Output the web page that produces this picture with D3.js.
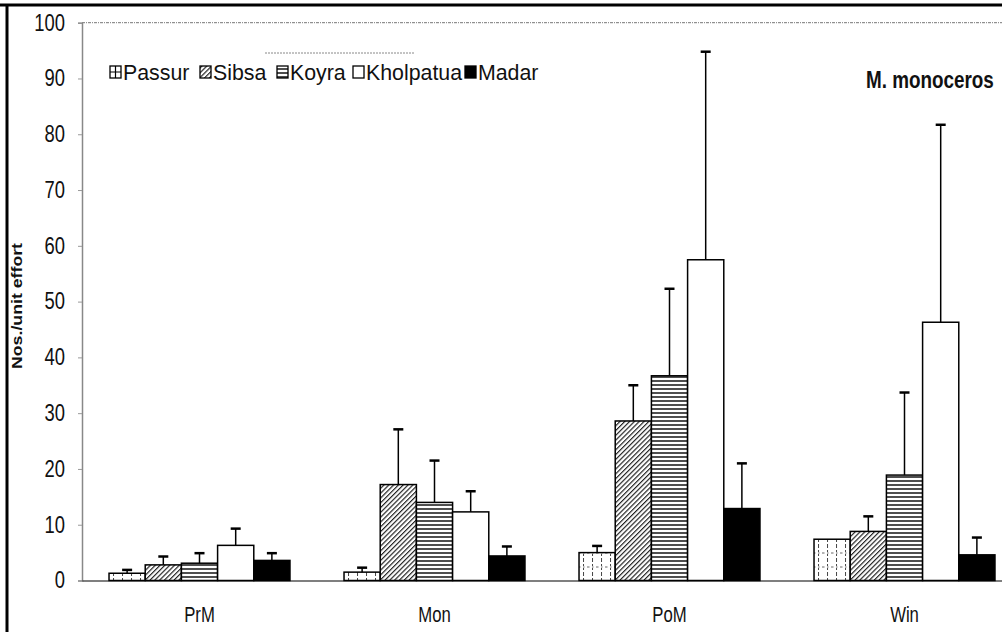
<!DOCTYPE html>
<html>
<head>
<meta charset="utf-8">
<script src="https://cdn.jsdelivr.net/npm/d3@7"></script>
<style>
  html, body { margin: 0; padding: 0; background: #fff; }
  #chart { width: 1002px; height: 632px; overflow: hidden; }
  text { font-family: "Liberation Sans", Arial, sans-serif; }
</style>
</head>
<body>
<div id="chart"></div>
<script>
// seasons (x categories) and sites (series)
const seasons = ["PrM", "Mon", "PoM", "Win"];
const sites = ["Passur", "Sibsa", "Koyra", "Kholpatua", "Madar"];

// mean nos./unit effort per site, one value per season
const passurMean    = [1.3, 1.5, 5.0, 7.4];
const sibsaMean     = [2.8, 17.2, 28.6, 8.8];
const koyraMean     = [3.1, 14.0, 36.7, 18.9];
const kholpatuaMean = [6.3, 12.3, 57.5, 46.3];
const madarMean     = [3.6, 4.4, 12.9, 4.6];

// upper end of the error bars (null = no bar drawn)
const passurUpper    = [1.9, 2.3, 6.2, null];
const sibsaUpper     = [4.3, 27.1, 35.0, 11.5];
const koyraUpper     = [4.9, 21.5, 52.3, 33.7];
const kholpatuaUpper = [9.3, 16.0, 94.8, 81.7];
const madarUpper     = [4.9, 6.1, 21.0, 7.7];

const yTicks = [0, 10, 20, 30, 40, 50, 60, 70, 80, 90, 100];

const means = [passurMean, sibsaMean, koyraMean, kholpatuaMean, madarMean];
const uppers = [passurUpper, sibsaUpper, koyraUpper, kholpatuaUpper, madarUpper];

const data = [];
seasons.forEach((s, i) => {
  sites.forEach((site, j) => {
    data.push({ season: s, site: site, value: means[j][i], upper: uppers[j][i] });
  });
});

const W = 1002, H = 632;
const plot = { left: 82, top: 22.7, bottom: 580.5, right: 1022 };
const narrow = 0.82; // horizontal squeeze to mimic the condensed typeface

const svg = d3.select("#chart").append("svg")
  .attr("width", W)
  .attr("height", H);

// fill patterns for the sites
const defs = svg.append("defs");

const pPassur = defs.append("pattern")
  .attr("id", "pat-Passur")
  .attr("patternUnits", "userSpaceOnUse")
  .attr("width", 9).attr("height", 14);
pPassur.append("rect").attr("width", 9).attr("height", 14).attr("fill", "#fff");
pPassur.append("line").attr("x1", 4.5).attr("x2", 4.5).attr("y1", 0).attr("y2", 14)
  .attr("stroke", "#444").attr("stroke-width", 1).attr("stroke-dasharray", "2,2");
pPassur.append("line").attr("x1", 0).attr("x2", 9).attr("y1", 7).attr("y2", 7)
  .attr("stroke", "#666").attr("stroke-width", 1).attr("stroke-dasharray", "1.5,2.5");

const pSibsa = defs.append("pattern")
  .attr("id", "pat-Sibsa")
  .attr("patternUnits", "userSpaceOnUse")
  .attr("width", 3.4).attr("height", 10)
  .attr("patternTransform", "rotate(45)");
pSibsa.append("rect").attr("width", 3.4).attr("height", 10).attr("fill", "#fff");
pSibsa.append("line").attr("x1", 0.6).attr("x2", 0.6).attr("y1", 0).attr("y2", 10)
  .attr("stroke", "#111").attr("stroke-width", 1.1);

const pKoyra = defs.append("pattern")
  .attr("id", "pat-Koyra")
  .attr("patternUnits", "userSpaceOnUse")
  .attr("width", 10).attr("height", 4);
pKoyra.append("rect").attr("width", 10).attr("height", 4).attr("fill", "#fff");
pKoyra.append("line").attr("x1", 0).attr("x2", 10).attr("y1", 1).attr("y2", 1)
  .attr("stroke", "#222").attr("stroke-width", 1.6);

const fills = {
  Passur: "url(#pat-Passur)",
  Sibsa: "url(#pat-Sibsa)",
  Koyra: "url(#pat-Koyra)",
  Kholpatua: "#fff",
  Madar: "#000"
};

// scales
const x0 = d3.scaleBand()
  .domain(seasons)
  .range([plot.left, plot.right])
  .paddingInner(0.23)
  .paddingOuter(0.115);

const x1 = d3.scaleBand()
  .domain(sites)
  .range([0, x0.bandwidth()]);

const y = d3.scaleLinear()
  .domain([0, 100])
  .range([plot.bottom, plot.top]);

// outer frame (scan edge)
svg.append("line").attr("x1", 0).attr("x2", W).attr("y1", 5).attr("y2", 5)
  .attr("stroke", "#000").attr("stroke-width", 3);
svg.append("line").attr("x1", 7).attr("x2", 7).attr("y1", 4).attr("y2", H)
  .attr("stroke", "#000").attr("stroke-width", 3);

// plot area top border (faint, dotted)
svg.append("line")
  .attr("x1", plot.left).attr("x2", W)
  .attr("y1", y(100)).attr("y2", y(100))
  .attr("stroke", "#777").attr("stroke-width", 1).attr("stroke-dasharray", "3,1,1,1");

// y axis
const yAxis = svg.append("g")
  .attr("transform", `translate(${plot.left},0)`)
  .call(d3.axisLeft(y).tickValues(yTicks).tickSize(4));
yAxis.select(".domain").attr("stroke", "#888").attr("stroke-width", 1.5);
yAxis.selectAll(".tick line").attr("stroke", "#999");
yAxis.selectAll(".tick text")
  .attr("font-family", '"Liberation Sans", Arial, sans-serif')
  .attr("font-size", 23)
  .attr("fill", "#111")
  .attr("x", -17 / 0.8)
  .attr("transform", "scale(0.8,1)");

// y axis title
svg.append("text")
  .attr("transform", "translate(22,306) rotate(-90)")
  .attr("text-anchor", "middle")
  .attr("font-weight", 700)
  .attr("font-size", 14)
  .attr("textLength", 126)
  .attr("lengthAdjust", "spacingAndGlyphs")
  .attr("fill", "#111")
  .text("Nos./unit effort");

// x axis
const xAxis = svg.append("g")
  .attr("transform", `translate(0,${plot.bottom})`)
  .call(d3.axisBottom(x0).tickSize(0).tickPadding(26));
xAxis.select(".domain").attr("stroke", "#000").attr("stroke-width", 1.2);
xAxis.selectAll(".tick text")
  .attr("font-family", '"Liberation Sans", Arial, sans-serif')
  .attr("font-size", 22)
  .attr("fill", "#111")
  .attr("transform", "scale(0.76,1)");

// bars
const groups = svg.append("g").selectAll("g")
  .data(seasons)
  .join("g")
  .attr("transform", d => `translate(${x0(d)},0)`);

groups.selectAll("rect")
  .data(s => data.filter(d => d.season === s))
  .join("rect")
  .attr("x", d => x1(d.site))
  .attr("y", d => y(d.value))
  .attr("width", x1.bandwidth())
  .attr("height", d => y(0) - y(d.value))
  .attr("fill", d => fills[d.site])
  .attr("stroke", "#000")
  .attr("stroke-width", 1.5);

// error bars (upper only)
const errs = groups.selectAll("g.err")
  .data(s => data.filter(d => d.season === s && d.upper !== null))
  .join("g")
  .attr("class", "err");

errs.append("line")
  .attr("x1", d => x1(d.site) + x1.bandwidth() / 2)
  .attr("x2", d => x1(d.site) + x1.bandwidth() / 2)
  .attr("y1", d => y(d.value))
  .attr("y2", d => y(d.upper))
  .attr("stroke", "#000")
  .attr("stroke-width", 1.5);

errs.append("line")
  .attr("x1", d => x1(d.site) + x1.bandwidth() / 2 - 5)
  .attr("x2", d => x1(d.site) + x1.bandwidth() / 2 + 5)
  .attr("y1", d => y(d.upper))
  .attr("y2", d => y(d.upper))
  .attr("stroke", "#000")
  .attr("stroke-width", 2.5);

// legend
const legendItemX = d3.scaleOrdinal()
  .domain(sites)
  .range([110, 200, 277, 353, 465]);

const legend = svg.append("g").attr("transform", "translate(0,72)");

// faint dotted remains of the legend border
legend.append("line")
  .attr("x1", 265).attr("x2", 415).attr("y1", -19).attr("y2", -19)
  .attr("stroke", "#888").attr("stroke-width", 1).attr("stroke-dasharray", "2,1");

const li = legend.selectAll("g.item")
  .data(sites)
  .join("g")
  .attr("class", "item")
  .attr("transform", d => `translate(${legendItemX(d)},0)`);

li.append("rect")
  .attr("x", 0).attr("y", -6)
  .attr("width", 11).attr("height", 12)
  .attr("fill", d => d === "Passur" ? "#fff" : fills[d])
  .attr("stroke", "#000")
  .attr("stroke-width", 1.3);

// Passur legend key shows a cross
li.filter(d => d === "Passur").append("path")
  .attr("d", "M5.5,-6V6M0,0H11")
  .attr("stroke", "#000")
  .attr("stroke-width", 1.2)
  .attr("fill", "none");

li.append("text")
  .attr("transform", "translate(13,8) scale(0.97,1)")
  .attr("font-size", 22)
  .attr("fill", "#111")
  .text(d => d);

// species label
svg.append("text")
  .attr("transform", `translate(866,88) scale(${narrow},1)`)
  .attr("font-weight", 700)
  .attr("font-size", 23)
  .attr("fill", "#111")
  .text("M. monoceros");
</script>
</body>
</html>
